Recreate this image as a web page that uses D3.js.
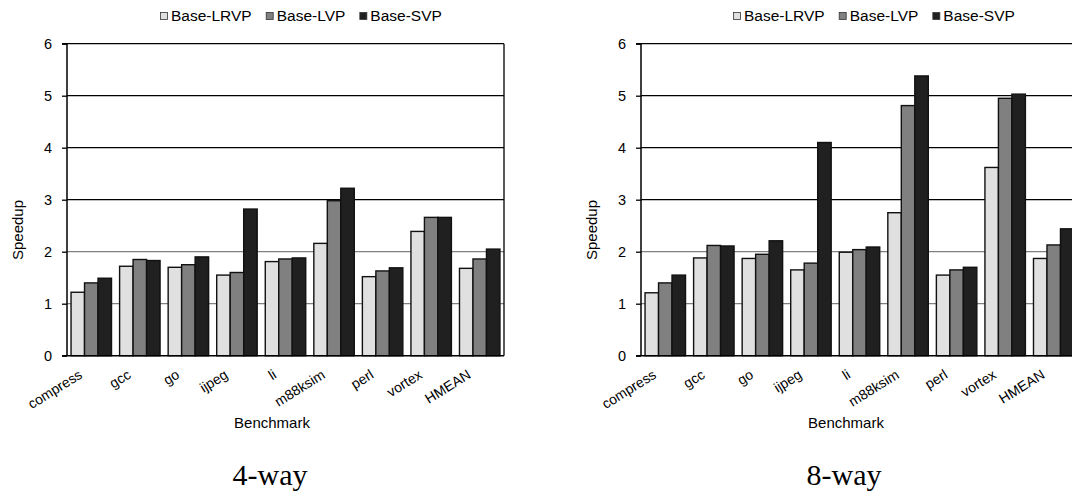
<!DOCTYPE html>
<html><head><meta charset="utf-8">
<script src="https://cdn.jsdelivr.net/npm/d3@7"></script>
<style>
body{margin:0;background:#fff;}
svg{display:block;}
text{font-family:"Liberation Sans",Arial,sans-serif;fill:#000;}
</style></head>
<body>
<svg id="c" width="1072" height="493"></svg>
<script>
const categories = ["compress","gcc","go","ijpeg","li","m88ksim","perl","vortex","HMEAN"];
const seriesNames = ["Base-LRVP","Base-LVP","Base-SVP"];
const seriesColors = ["#e0e0e0","#808080","#202020"];
const yTicks = [0,1,2,3,4,5,6];

const way4LRVP = [1.22,1.72,1.70,1.55,1.81,2.16,1.52,2.39,1.68];
const way4LVP  = [1.40,1.85,1.75,1.60,1.86,2.98,1.63,2.66,1.86];
const way4SVP  = [1.49,1.83,1.90,2.82,1.88,3.22,1.69,2.66,2.05];

const way8LRVP = [1.21,1.88,1.87,1.65,1.99,2.75,1.55,3.62,1.87];
const way8LVP  = [1.40,2.12,1.95,1.78,2.04,4.81,1.65,4.95,2.13];
const way8SVP  = [1.55,2.11,2.21,4.10,2.09,5.38,1.70,5.03,2.44];

const svg = d3.select("#c");

function panel(opt){
  const {left, right, top, bottom, series, caption, titleX, captionX, legendX, yLabelX, yLabelY} = opt;
  const g = svg.append("g");
  const x0 = d3.scaleBand().domain(categories).range([left,right]).padding(0);
  const x1 = d3.scaleBand().domain(seriesNames).range([0,x0.bandwidth()]).paddingInner(0).paddingOuter(0.3);
  const y = d3.scaleLinear().domain([0,6]).range([bottom,top]);

  // gridlines
  g.append("g").selectAll("line").data(yTicks.filter(t=>t>0 && t<6)).join("line")
    .attr("x1",left).attr("x2",right).attr("y1",d=>y(d)).attr("y2",d=>y(d))
    .attr("stroke",d=>d<3?"#808080":"#000").attr("stroke-width",1.3);

  // bars
  const data = [];
  categories.forEach((c,i)=>seriesNames.forEach((s,j)=>data.push({c,s,j,v:series[j][i]})));
  g.append("g").selectAll("rect").data(data).join("rect")
    .attr("x",d=>x0(d.c)+x1(d.s)).attr("width",x1.bandwidth())
    .attr("y",d=>y(d.v)).attr("height",d=>y(0)-y(d.v))
    .attr("fill",d=>seriesColors[d.j]).attr("stroke","#111").attr("stroke-width",1.4);

  // frame: top and right
  g.append("line").attr("x1",left).attr("x2",right).attr("y1",y(6)).attr("y2",y(6)).attr("stroke","#000").attr("stroke-width",1.3);
  g.append("line").attr("x1",right).attr("x2",right).attr("y1",y(6)).attr("y2",y(0)).attr("stroke","#000").attr("stroke-width",1.3);

  // y axis
  const ya = d3.axisLeft(y).tickValues(yTicks).tickSize(5).tickPadding(10).tickFormat(d3.format("d"));
  const yg = g.append("g").attr("transform",`translate(${left},0)`).call(ya);
  yg.select(".domain").attr("stroke","#000").attr("stroke-width",1.5).attr("d",`M-5,${y(6)}H0V${y(0)}`);
  yg.selectAll(".tick line").attr("stroke","#000").attr("stroke-width",1.3);
  yg.selectAll(".tick text").style("font-size","14.5px").style("font-family","Liberation Sans, Arial, sans-serif").attr("fill","#000");

  // x baseline
  g.append("line").attr("x1",left-5).attr("x2",right).attr("y1",y(0)).attr("y2",y(0)).attr("stroke","#000").attr("stroke-width",1.5);

  // x labels
  g.append("g").selectAll("text").data(categories).join("text")
    .attr("transform",d=>`translate(${x0(d)+x0.bandwidth()/2-8},${y(0)+21.5}) rotate(-32)`)
    .attr("text-anchor","end").style("font-size","14px").text(d=>d);

  // axis titles
  g.append("text").attr("x",titleX).attr("y",428).attr("text-anchor","middle").style("font-size","15px").text("Benchmark");
  g.append("text").attr("transform",`translate(${yLabelX},${yLabelY}) rotate(-90)`)
    .attr("text-anchor","middle").style("font-size","15px").text("Speedup");

  // caption
  g.append("text").attr("x",captionX).attr("y",485).attr("text-anchor","middle")
    .style("font-family","'Liberation Serif','DejaVu Serif',serif").style("font-size","30px").text(caption);

  // legend
  const lg = g.append("g").attr("transform",`translate(${legendX},21)`);
  let cx = 0;
  seriesNames.forEach((s,j)=>{
    lg.append("rect").attr("x",cx+0.5).attr("y",-8.5).attr("width",7).attr("height",7)
      .attr("fill",seriesColors[j]).attr("stroke","#333").attr("stroke-width",0.8);
    const t = lg.append("text").attr("x",cx+11).attr("y",0).style("font-size","15.5px").text(s);
    cx += 11 + t.node().getComputedTextLength() + 14;
  });
}

panel({left:67,right:504,top:43.7,bottom:355.7,series:[way4LRVP,way4LVP,way4SVP],caption:"4-way",titleX:272,captionX:270,legendX:160,yLabelX:23,yLabelY:230});
panel({left:641,right:1078,top:43.7,bottom:355.7,series:[way8LRVP,way8LVP,way8SVP],caption:"8-way",titleX:846,captionX:844,legendX:733,yLabelX:597,yLabelY:230});
</script>
</body></html>
